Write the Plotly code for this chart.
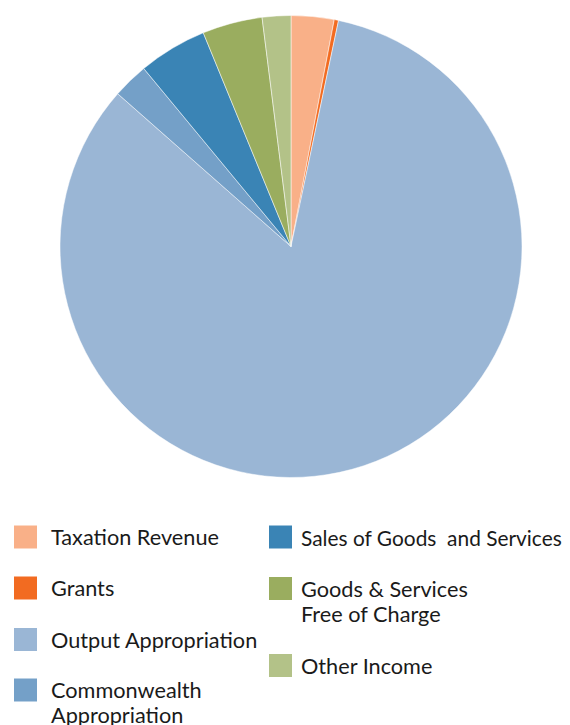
import plotly.graph_objects as go

W, H = 570, 725
OFF = 8  # page body margin offset

labels = ["Taxation Revenue", "Grants", "Output Appropriation", "Commonwealth Appropriation",
          "Sales of Goods  and Services", "Goods & Services Free of Charge", "Other Income"]
legend_lines = [["Taxation Revenue"], ["Grants"], ["Output Appropriation"],
                ["Commonwealth", "Appropriation"], ["Sales of Goods  and Services"],
                ["Goods & Services", "Free of Charge"], ["Other Income"]]
values = [3.0, 0.3, 83.2, 2.5, 4.8, 4.2, 2.0]
colors = ["#F9B088", "#F26B21", "#9AB6D5", "#74A0C8", "#3A84B5", "#9AAD5F", "#B3C288"]

def px_x(x):
    return (x - OFF) / W

def px_y(y):
    return 1 - (y - OFF) / H

fig = go.Figure(go.Pie(
    labels=labels, values=values, sort=False, direction="clockwise", rotation=0,
    marker=dict(colors=colors, line=dict(color="white", width=0.5)),
    textinfo="none", hoverinfo="label+percent", showlegend=False,
    domain=dict(x=[px_x(60), px_x(522)], y=[px_y(478), px_y(15)]),
))

# manual two-column legend: (square x, text x, first-line center y, font size)
layout_pos = [(14, 49, 537, 21.7), (14, 49, 588, 21.7), (14, 49, 639.5, 21.7), (14, 49, 690, 21.7),
              (269, 299, 537, 20.9), (269, 299, 588.5, 21.7), (269, 299, 665.5, 21.7)]
shapes = []
annotations = []
lh = 25
for lines, col, (sx, tx, cy, fs) in zip(legend_lines, colors, layout_pos):
    shapes.append(dict(type="rect", xref="paper", yref="paper",
                       x0=px_x(sx), x1=px_x(sx + 23), y0=px_y(cy + 11.5), y1=px_y(cy - 11.5),
                       fillcolor=col, line=dict(width=0)))
    for i, t in enumerate(lines):
        annotations.append(dict(text=t, xref="paper", yref="paper", x=px_x(tx),
                                y=px_y(cy + i * lh), xanchor="left", yanchor="middle",
                                showarrow=False, align="left",
                                font=dict(family="Lato", size=fs, color="#1a1a1a")))

fig.update_layout(width=W, height=H, margin=dict(l=0, r=0, t=0, b=0),
                  paper_bgcolor="white", plot_bgcolor="white",
                  shapes=shapes, annotations=annotations)
fig.write_html("out.html")
